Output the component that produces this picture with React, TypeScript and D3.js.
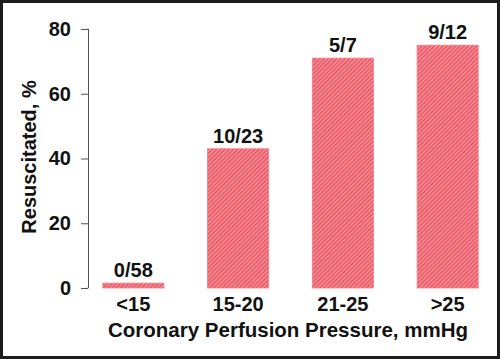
import { useEffect, useRef } from "react";
import * as d3 from "d3";

const categories = ["<15", "15-20", "21-25", ">25"];
const resuscitated = [1.5, 43, 71, 75];
const ratioLabels = ["0/58", "10/23", "5/7", "9/12"];
const yTicks = [0, 20, 40, 60, 80];

const App = () => {
  const svgRef = useRef<SVGSVGElement>(null);

  useEffect(() => {
    const svg = d3.select(svgRef.current);
    svg.selectAll("*").remove();

    const width = 500;
    const height = 359;
    const font = "'Liberation Sans', Arial, sans-serif";
    const fs = 20;

    const x = d3
      .scaleBand()
      .domain(categories)
      .range([81, 500])
      .paddingInner(0.417)
      .paddingOuter(0.208);

    const y = d3.scaleLinear().domain([0, 80]).range([288, 29]);

    const defs = svg.append("defs");
    const pat = defs
      .append("pattern")
      .attr("id", "hatch")
      .attr("patternUnits", "userSpaceOnUse")
      .attr("width", 3)
      .attr("height", 3)
      .attr("patternTransform", "rotate(45)");
    pat.append("rect").attr("width", 3).attr("height", 3).attr("fill", "#f6949b");
    pat.append("rect").attr("width", 1.4).attr("height", 3).attr("fill", "#ea4c5c");

    svg.append("rect").attr("width", width).attr("height", height).attr("fill", "#fff");

    // outer frame
    svg.append("rect")
      .attr("x", 1.5)
      .attr("y", 1.5)
      .attr("width", width - 3)
      .attr("height", height - 3)
      .attr("fill", "none")
      .attr("stroke", "#1c1c1c")
      .attr("stroke-width", 3);

    const yAxis = svg.append("g")
      .attr("transform", "translate(88,0)")
      .call(d3.axisLeft(y).tickValues(yTicks).tickSize(7).tickPadding(10));
    yAxis.select(".domain").attr("stroke", "#555").attr("d", `M-0.5,${y(80)}H0.5V${y(0)}H-0.5`);
    yAxis.selectAll(".tick line").attr("stroke", "#555");
    yAxis.selectAll(".tick text")
      .attr("fill", "#111")
      .attr("font-family", font)
      .attr("font-weight", "bold")
      .attr("font-size", fs);

    svg.selectAll("rect.bar")
      .data(resuscitated)
      .join("rect")
      .attr("class", "bar")
      .attr("x", (d, i) => x(categories[i])!)
      .attr("y", d => y(d))
      .attr("width", x.bandwidth())
      .attr("height", d => y(0) - y(d))
      .attr("fill", "url(#hatch)")
      .attr("stroke", "#f27c86")
      .attr("stroke-width", 0.8);

    svg.selectAll("text.ratio")
      .data(resuscitated)
      .join("text")
      .attr("class", "ratio")
      .attr("x", (d, i) => x(categories[i])! + x.bandwidth() / 2)
      .attr("y", d => y(d) - 6)
      .attr("text-anchor", "middle")
      .attr("font-family", font)
      .attr("font-weight", "bold")
      .attr("font-size", fs)
      .attr("fill", "#111")
      .text((d, i) => ratioLabels[i]);

    svg.selectAll("text.cat")
      .data(categories)
      .join("text")
      .attr("class", "cat")
      .attr("x", d => x(d)! + x.bandwidth() / 2)
      .attr("y", 311)
      .attr("text-anchor", "middle")
      .attr("font-family", font)
      .attr("font-weight", "bold")
      .attr("font-size", fs)
      .attr("fill", "#111")
      .text(d => d);

    svg.append("text")
      .attr("x", 288)
      .attr("y", 337)
      .attr("text-anchor", "middle")
      .attr("font-family", font)
      .attr("font-weight", "bold")
      .attr("font-size", 20.5)
      .attr("fill", "#111")
      .text("Coronary Perfusion Pressure, mmHg");

    svg.append("text")
      .attr("transform", "translate(36,157) rotate(-90)")
      .attr("text-anchor", "middle")
      .attr("font-family", font)
      .attr("font-weight", "bold")
      .attr("font-size", fs)
      .attr("fill", "#111")
      .text("Resuscitated, %");
  }, []);

  return (
    <svg
      ref={svgRef}
      width={500}
      height={359}
      style={{ position: "absolute", left: 0, top: 0 }}
    ></svg>
  );
};

export default App;
